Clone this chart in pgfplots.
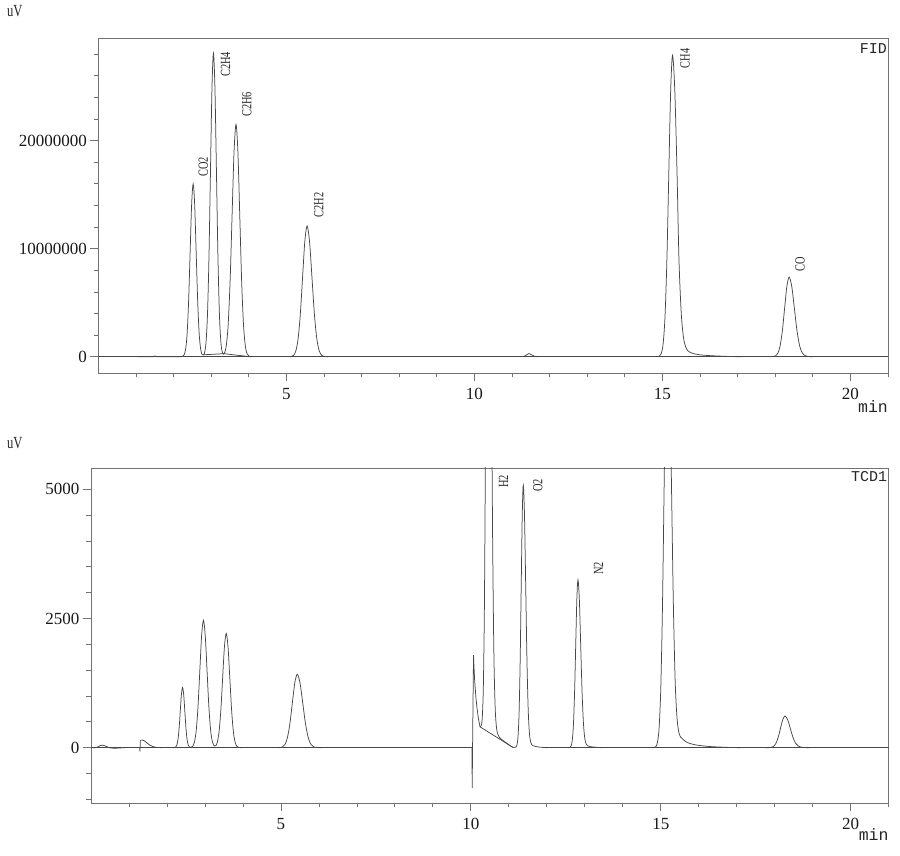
\documentclass[border=0pt]{standalone}
\usepackage{fontspec}
\setmainfont{Liberation Serif}
\newfontfamily\monofont{Liberation Mono}
\newfontfamily\narrowfont[FakeStretch=0.74]{Liberation Serif}
\usepackage{pgfplots}
\pgfplotsset{compat=1.18}

\pgfplotsset{gcstyle/.style={
    scale only axis,
    axis line style={black!55, line width=0.8pt},
    tick style={black!55, line width=0.8pt},
    tick align=outside, xtick pos=bottom, ytick pos=left,
    major tick length=8pt, minor tick length=4.5pt,
    xmin=0, xmax=21,
    xtick={5,10,15,20}, xticklabels={5,10,15,20},
    minor xtick={1,2,3,4,6,7,8,9,11,12,13,14,16,17,18,19,21},
    tick label style={font=\fontsize{17}{20}\selectfont, black!90},
    xticklabel style={yshift=-4pt},
    scaled y ticks=false,
    clip mode=individual,
    every axis plot/.append style={line width=0.75pt, black!72},
  }}
\tikzset{
  peak/.style={rotate=90, anchor=west, inner sep=0pt, black!85,
    font=\narrowfont\fontsize{14}{14}\selectfont},
  det/.style={anchor=north east, inner sep=0pt, black!85,
    font=\monofont\fontsize{15}{15}\selectfont},
  unit/.style={anchor=north east, inner sep=0pt, black!85,
    font=\monofont\fontsize{16.5}{16.5}\selectfont},
}

\begin{document}
\begin{tikzpicture}
\useasboundingbox (0,0) rectangle (900pt,855pt);

% FID
\begin{axis}[gcstyle, at={(98.4pt,482pt)}, anchor=south west,
  width=789.6pt, height=335pt,
  ymin=-1.5e6, ymax=29.5e6,
  ytick={0,1e7,2e7}, yticklabels={0,10000000,20000000},
  minor ytick={2e6,4e6,6e6,8e6,12e6,14e6,16e6,18e6,22e6,24e6,26e6,28e6}]
\addplot[sharp plot] coordinates {(0,0) (21,0)};
\addplot[sharp plot] coordinates {(2.78,0.18e6) (3.335,0.29e6) (4.05,0)};
\addplot[sharp plot] coordinates {(1.05,0) (1.45,0) (1.5,0.08e6) (1.55,0) (2.2,0)};
\addplot[smooth] coordinates {
  (2.2,0) (2.24,0.035e6) (2.28,0.18e6) (2.32,0.70e6) (2.36,2.16e6) (2.40,5.20e6)
  (2.44,9.70e6) (2.48,14.12e6) (2.52,16.0e6) (2.56,14.12e6) (2.60,9.70e6)
  (2.64,5.20e6) (2.68,2.16e6) (2.72,0.70e6) (2.76,0.20e6) (2.80,0.18e6)
  (2.82,0.32e6) (2.86,1.23e6) (2.90,3.80e6) (2.94,9.12e6) (2.98,17.04e6)
  (3.02,24.80e6) (3.06,28.1e6) (3.10,24.80e6) (3.14,17.04e6) (3.18,9.12e6)
  (3.22,3.80e6) (3.26,1.25e6) (3.30,0.37e6) (3.345,0.29e6) (3.3975,0.94e6)
  (3.45,2.91e6) (3.5025,6.98e6) (3.555,13.04e6) (3.6075,18.97e6) (3.66,21.5e6)
  (3.71,18.97e6) (3.76,13.04e6) (3.81,6.98e6) (3.86,2.91e6) (3.91,0.94e6)
  (3.96,0.24e6) (4.01,0.05e6) (4.08,0)};
\addplot[smooth] coordinates {
  (5.1,0) (5.19,0.134e6) (5.25,0.53e6) (5.31,1.64e6) (5.37,3.93e6) (5.43,7.34e6)
  (5.49,10.68e6) (5.55,12.1e6) (5.615,10.68e6) (5.68,7.34e6) (5.745,3.93e6)
  (5.81,1.64e6) (5.875,0.53e6) (5.94,0.134e6) (6.005,0.027e6) (6.1,0)};
\addplot[smooth] coordinates {
  (11.3,0) (11.4,0.2e6) (11.45,0.3e6) (11.5,0.22e6) (11.6,0.05e6) (11.7,0)};
\addplot[smooth] coordinates {
  (14.9,0) (14.97,0.31e6) (15.02,1.22e6) (15.07,3.77e6) (15.12,9.06e6)
  (15.17,16.92e6) (15.22,24.62e6) (15.27,27.9e6) (15.33,24.62e6) (15.39,16.92e6)
  (15.44,9.06e6) (15.50,4.1e6) (15.56,1.8e6) (15.62,0.9e6) (15.68,0.55e6)
  (15.8,0.32e6) (16.0,0.18e6) (16.3,0.1e6) (16.7,0.04e6) (17.1,0)};
\addplot[smooth] coordinates {
  (17.85,0) (18.01,0.082e6) (18.07,0.324e6) (18.13,1.0e6) (18.19,2.40e6)
  (18.25,4.48e6) (18.31,6.51e6) (18.37,7.38e6) (18.44,6.51e6) (18.51,4.48e6)
  (18.58,2.40e6) (18.65,1.0e6) (18.72,0.37e6) (18.79,0.12e6) (18.86,0.03e6)
  (19.0,0)};
\node[peak] at (axis cs:2.79,16.67e6) {CO2};
\node[peak] at (axis cs:3.38,25.9e6) {C2H4};
\node[peak] at (axis cs:3.95,22.2e6) {C2H6};
\node[peak] at (axis cs:5.86,12.9e6) {C2H2};
\node[peak] at (axis cs:15.6,26.7e6) {CH4};
\node[peak] at (axis cs:18.66,7.9e6) {CO};
\node[det] at ([xshift=-1pt,yshift=-5pt]rel axis cs:1,1) {FID};
\node[unit] at ([yshift=-27pt]rel axis cs:1,0) {min};
\end{axis}

% TCD1
\begin{axis}[gcstyle, at={(91pt,52pt)}, anchor=south west,
  width=797.7pt, height=335pt,
  ymin=-1070, ymax=5412,
  ytick={0,2500,5000}, yticklabels={0,2500,5000},
  minor ytick={-1000,-500,500,1000,1500,2000,3000,3500,4000,4500}]
\addplot[sharp plot] coordinates {(0,0) (10.03,0)};
\addplot[sharp plot] coordinates {(11.9,0) (21,0)};
\addplot[sharp plot] coordinates {(10.24,405) (11.12,0)};
\addplot[smooth] coordinates {
  (0,0) (0.1,0) (0.18,15) (0.24,40) (0.3,50) (0.36,38) (0.44,12) (0.52,-5)
  (0.6,-10) (0.7,-8) (0.8,-3) (0.9,0)};
\addplot[sharp plot] coordinates {
  (1.28,0) (1.29,-75) (1.30,140) (1.34,150) (1.40,135) (1.47,95) (1.55,50)
  (1.63,22) (1.72,7) (1.85,0)};
\addplot[smooth] coordinates {
  (2.14,0) (2.17,0.4) (2.20,2.6) (2.23,12.9) (2.26,51) (2.29,158) (2.32,378)
  (2.35,707) (2.38,1028) (2.41,1165) (2.44,1028) (2.47,707) (2.50,378)
  (2.53,158) (2.56,51) (2.59,14) (2.63,7) (2.675,27) (2.7225,108) (2.77,333)
  (2.8175,799) (2.865,1492) (2.9125,2171) (2.96,2465) (3.0075,2171)
  (3.055,1492) (3.1025,799) (3.15,333) (3.20,102) (3.25,34) (3.28,37)
  (3.32,92) (3.37,299) (3.4175,718) (3.465,1340) (3.5125,1950) (3.56,2210)
  (3.6075,1950) (3.655,1340) (3.7025,718) (3.75,299) (3.7975,97) (3.845,24.5)
  (3.8925,4.9) (3.95,0)};
\addplot[smooth] coordinates {
  (4.95,0) (5.04,15.8) (5.105,62) (5.17,192) (5.235,461) (5.30,861)
  (5.365,1253) (5.43,1420) (5.5025,1253) (5.575,861) (5.6475,461) (5.72,192)
  (5.7925,62) (5.865,15.8) (5.94,3) (6.05,0)};
\addplot[sharp plot] coordinates {
  (10.03,0) (10.035,-780) (10.045,0) (10.07,1790) (10.08,1600) (10.10,1300)
  (10.13,1000) (10.16,780) (10.20,560) (10.24,405)};
\addplot[smooth] coordinates {
  (10.24,405) (10.27,422) (10.30,576) (10.33,1223) (10.36,3019) (10.39,6575)
  (10.42,11070) (10.46,14300) (10.50,12170) (10.535,8162) (10.57,4324)
  (10.605,1872) (10.64,773) (10.675,390) (10.71,260) (10.75,200) (10.8,165)
  (10.9,110) (11.0,55) (11.1,12) (11.15,6) (11.1875,11) (11.215,56)
  (11.2425,223) (11.27,687) (11.2975,1650) (11.325,3081) (11.3525,4483)
  (11.38,5080) (11.4125,4483) (11.445,3081) (11.4775,1670) (11.51,727)
  (11.5425,273) (11.575,106) (11.61,51) (11.7,25) (11.85,8) (12.0,0)};
\addplot[smooth] coordinates {
  (12.55,0) (12.61,7) (12.64,36) (12.67,143) (12.70,440) (12.73,1055)
  (12.76,1971) (12.79,2868) (12.82,3250) (12.856,2868) (12.892,1971)
  (12.928,1070) (12.964,470) (13.00,178) (13.036,71) (13.072,37) (13.15,20)
  (13.3,8) (13.45,0)};
\addplot[smooth] coordinates {
  (14.8,0) (14.865,19) (14.91,94) (14.955,373) (15.0,1150) (15.045,2760)
  (15.09,5155) (15.135,7501) (15.18,8500) (15.23,7501) (15.28,5155)
  (15.33,2820) (15.38,1260) (15.43,553) (15.48,284) (15.53,199) (15.6,150)
  (15.7,100) (15.85,65) (16.0,45) (16.3,22) (16.7,8) (17.1,0)};
\addplot[smooth] coordinates {
  (17.75,0) (17.85,1.3) (17.91,6.8) (17.97,27) (18.03,83) (18.09,199)
  (18.15,372) (18.21,541) (18.27,613) (18.34,541) (18.41,372) (18.48,199)
  (18.55,83) (18.62,32) (18.69,11) (18.76,3) (18.9,0)};
\node[peak] at (axis cs:10.86,5025) {H2};
\node[peak] at (axis cs:11.76,4948) {O2};
\node[peak] at (axis cs:13.36,3342) {N2};
\node[det] at ([xshift=-1.5pt,yshift=-3.7pt]rel axis cs:1,1) {TCD1};
\node[unit] at ([yshift=-25pt]rel axis cs:1,0) {min};
\end{axis}

\node[anchor=north west, inner sep=0pt, black!85,
  font=\narrowfont\fontsize{17}{17}\selectfont] at (7pt,850pt) {uV};
\node[anchor=north west, inner sep=0pt, black!85,
  font=\narrowfont\fontsize{17}{17}\selectfont] at (7pt,418pt) {uV};
\end{tikzpicture}
\end{document}
